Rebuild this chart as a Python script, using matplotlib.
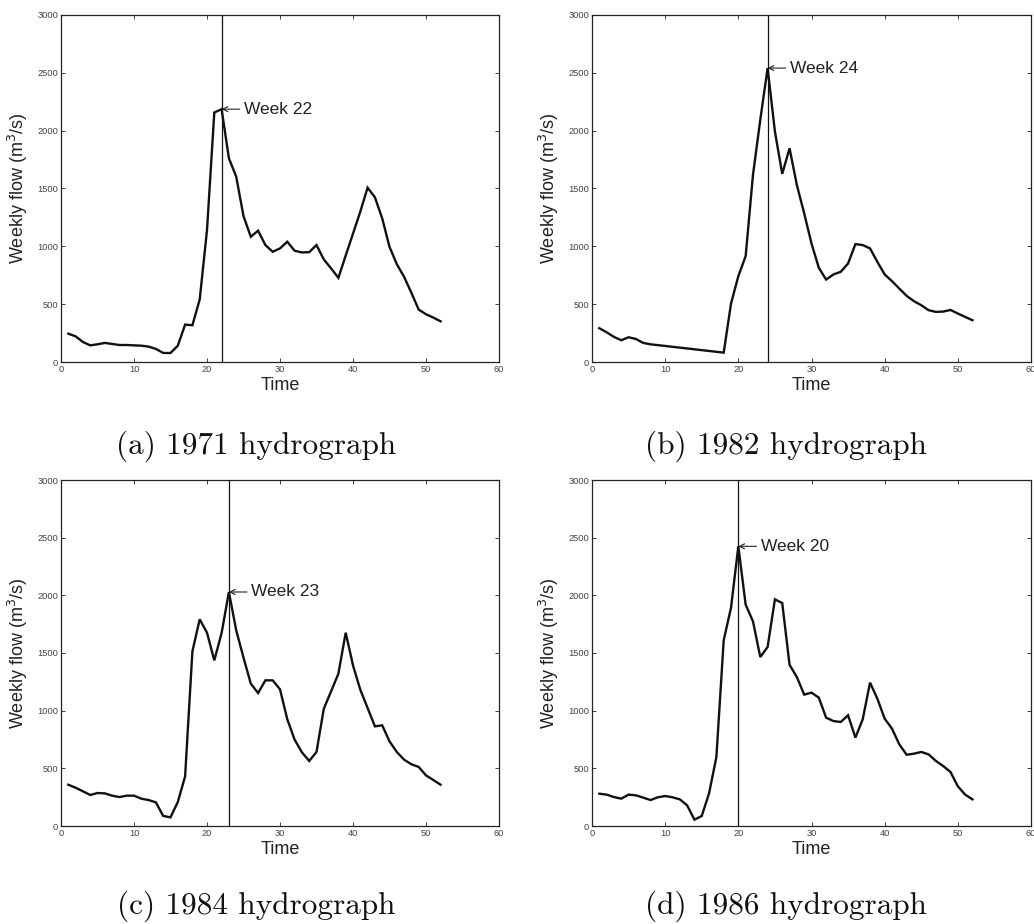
import matplotlib
matplotlib.use("Agg")
import matplotlib.pyplot as plt

# ---------------- data ----------------
weeks = list(range(1, 53))

flow_1971 = [245, 222, 173, 144, 153, 165, 156, 147, 147, 144, 141, 133, 113, 78, 78,
             141, 323, 318, 540, 1140, 2157, 2186, 1761, 1603, 1262, 1083, 1135, 1011,
             953, 982, 1040, 962, 947, 950, 1011, 887, 809, 728, 920, 1110, 1300, 1507,
             1424, 1242, 996, 846, 736, 598, 453, 413, 384, 352]

weeks_1982 = [1, 2, 3, 4, 5, 6, 7, 8] + list(range(18, 53))
flow_1982 = [292, 257, 217, 188, 214, 199, 165, 153,
             81, 505, 742, 915, 1617, 2094, 2541, 1993, 1626, 1848, 1530, 1285, 1025,
             814, 713, 757, 780, 852, 1019, 1011, 982, 866, 757, 699, 635, 572, 526,
             491, 448, 433, 436, 450, 419, 390, 361]

flow_1984 = [358, 332, 301, 269, 286, 283, 263, 251, 263, 263, 237, 225, 205, 87, 75,
             208, 430, 1514, 1792, 1676, 1436, 1673, 2029, 1697, 1460, 1234, 1153, 1263,
             1263, 1185, 925, 749, 639, 564, 642, 1017, 1168, 1321, 1676, 1393, 1182,
             1023, 864, 873, 734, 642, 575, 535, 512, 439, 399, 358]

flow_1986 = [280, 272, 251, 237, 272, 266, 246, 225, 249, 260, 249, 231, 179, 55, 87,
             283, 598, 1610, 1893, 2425, 1919, 1775, 1465, 1552, 1965, 1933, 1398, 1291,
             1139, 1156, 1113, 939, 910, 902, 960, 766, 925, 1243, 1104, 931, 844, 708,
             618, 627, 642, 621, 564, 520, 468, 344, 272, 231]

peak_weeks = [22, 24, 23, 20]
captions = ["(a) 1971 hydrograph", "(b) 1982 hydrograph",
            "(c) 1984 hydrograph", "(d) 1986 hydrograph"]
xticks = [0, 10, 20, 30, 40, 50, 60]
yticks = [0, 500, 1000, 1500, 2000, 2500, 3000]

series = [(weeks, flow_1971), (weeks_1982, flow_1982),
          (weeks, flow_1984), (weeks, flow_1986)]

# ---------------- figure ----------------
W, H = 1034, 924
fig = plt.figure(figsize=(W / 100, H / 100), dpi=100)

# axes boxes in pixels: left, right, top, bottom
boxes = [(61, 499, 15, 362), (592, 1031, 15, 362),
         (61, 499, 480, 826), (592, 1031, 480, 826)]
caption_xy = [(256, 446), (786, 446), (256, 906), (786, 906)]

sans = ["Liberation Sans", "DejaVu Sans"]

for i, ((xs, ys), pk, cap, (l, r, t, b)) in enumerate(zip(series, peak_weeks, captions, boxes)):
    ax = fig.add_axes([l / W, 1 - b / H, (r - l) / W, (b - t) / H])
    ax.plot(xs, ys, color="#111111", lw=1.7, solid_joinstyle="miter")
    ax.axvline(pk, color="#111111", lw=0.9)
    py = ys[xs.index(pk)]
    ax.annotate(f"Week {pk}", xy=(pk, py), xytext=(16, 0), textcoords="offset points",
                ha="left", va="center", fontsize=12.5, family=sans, color="#222222",
                arrowprops=dict(arrowstyle="->", lw=0.8, color="#222222",
                                shrinkA=1, shrinkB=0, mutation_scale=9))
    ax.set_xlim(0, 60)
    ax.set_ylim(0, 3000)
    ax.set_xticks(xticks)
    ax.set_yticks(yticks)
    ax.tick_params(direction="in", top=True, right=True, length=3, width=0.6,
                   labelsize=6.7, pad=2, colors="#222222", labelcolor="#444444")
    for lab in ax.get_xticklabels() + ax.get_yticklabels():
        lab.set_family(sans)
    for sp in ax.spines.values():
        sp.set_linewidth(0.9)
        sp.set_color("#222222")
    ax.set_xlabel("Time", fontsize=13, family=sans, labelpad=2.5, color="#222222")
    ax.set_ylabel("Weekly flow (m$^3$/s)", fontsize=13, family=sans, labelpad=5,
                  color="#222222")
    cx, cy = caption_xy[i]
    fig.text(cx / W, 1 - cy / H, cap, ha="center", va="center",
             fontsize=22.5, family=["cmr10", "DejaVu Serif"], color="#111111")

fig.savefig("out.png", dpi=100)
